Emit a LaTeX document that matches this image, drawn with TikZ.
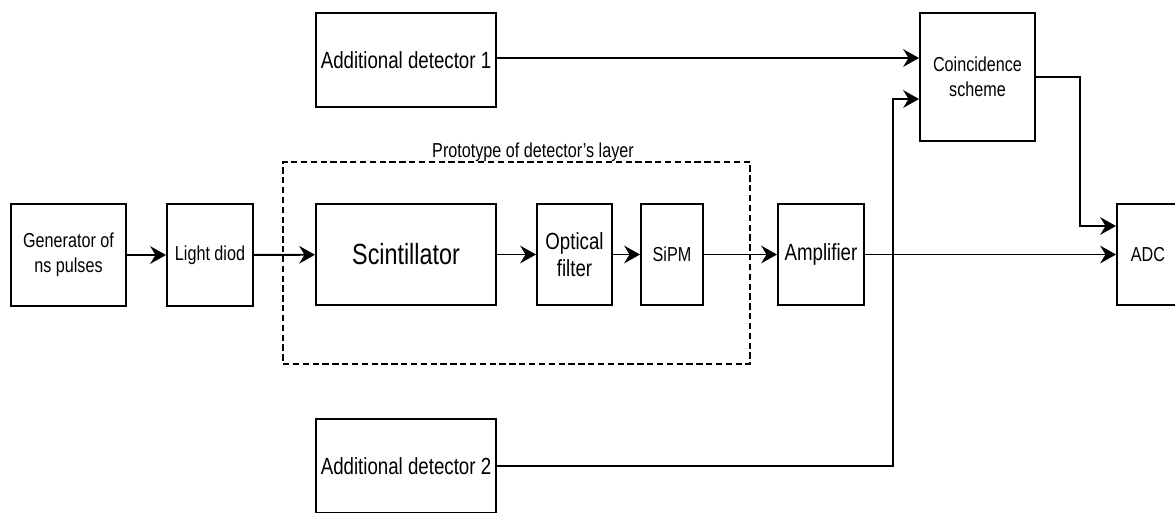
\documentclass[tikz,border=0pt]{standalone}
\usepackage{fontspec}
\setmainfont{Liberation Sans}[FakeStretch=0.8]
\usetikzlibrary{arrows.meta, calc}

\begin{document}
\begin{tikzpicture}[
      x=0.02cm, y=-0.02cm,
      block/.style = {draw, line width=1.1pt, inner sep=1pt, align=center,
                      font=\fontsize{11.5}{14}\selectfont},
      bigtext/.style = {font=\fontsize{13.3}{15.5}\selectfont},
      hugetext/.style = {font=\fontsize{16.6}{19}\selectfont},
      boxsize/.style 2 args = {minimum width=#1*0.02cm, minimum height=#2*0.02cm},
      wire/.style = {line width=1.1pt},
      >={Stealth[length=9pt, width=10pt, inset=3pt]}
    ]
    \useasboundingbox (0,0) rectangle (1175,512);

    % frame of the prototype layer
    \node[draw, dashed, line width=1pt, dash pattern=on 3.6pt off 2pt,
          boxsize={467}{202}] (layer) at (516.5,263) {};
    \node[anchor=base, font=\fontsize{11.5}{14}\selectfont] (layerlabel) at (533,157)
      {Prototype of detector's layer};

    % main chain
    \node[block, boxsize={115}{102}] (gen)   at (68.5,255)  {Generator of\\ns pulses};
    \node[block, boxsize={86}{102}]  (diod)  at (210,255)   {Light diod};
    \node[block, hugetext, boxsize={180}{101}] (scint) at (406,254.5) {Scintillator};
    \node[block, bigtext, boxsize={75}{101}]  (filter) at (574.5,254.5) {Optical\\filter};
    \node[block, boxsize={62}{101}]  (sipm)  at (672,254.5) {SiPM};
    \node[block, bigtext, boxsize={86}{101}]  (amp) at (821,254.5) {Amplifier};
    \node[block, boxsize={62}{101}]  (adc)   at (1148,254.5) {ADC};

    % additional detectors and coincidence
    \node[block, bigtext, boxsize={180}{94}]  (det1) at (406,60)  {Additional detector 1};
    \node[block, bigtext, boxsize={180}{94}]  (det2) at (406,466) {Additional detector 2};
    \node[block, boxsize={115}{128}] (coinc) at (977.5,77) {Coincidence\\scheme};

    \coordinate (upin)   at ($(coinc.west)+(0,-19)$);
    \coordinate (lowin)  at ($(coinc.west)+(0,22)$);
    \coordinate (adcin)  at ($(adc.west)+(0,-28.5)$);

    \draw[wire,->] (gen) -- (diod);
    \draw[wire,->] (diod) -- (scint);
    \draw[wire,->] (scint) -- (filter);
    \draw[wire,->] (filter) -- (sipm);
    \draw[wire,->] (sipm) -- (amp);
    \draw[wire,->] (amp) -- (adc);

    \draw[wire,->] (det1.east |- upin) -- (upin);
    \draw[wire,->] (det2.east) -| (893,99) -- (lowin);
    \draw[wire,->] (coinc.east) -| (1080,226) -- (adcin);
  \end{tikzpicture}
\end{document}
